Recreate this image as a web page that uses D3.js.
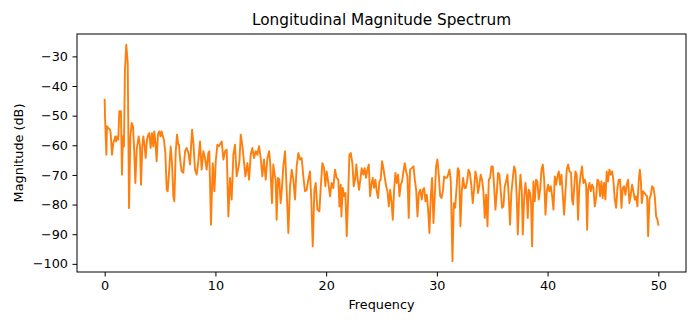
<!DOCTYPE html>
<html><head><meta charset="utf-8">
<script src="https://cdn.jsdelivr.net/npm/d3@7"></script>
<style>
body{margin:0;background:#fff;}
svg{display:block;font-family:"DejaVu Sans",sans-serif;}
</style></head><body>
<svg id="c" width="700" height="327"></svg>
<script>
const titleText = "Longitudinal Magnitude Spectrum";
const xLabel = "Frequency";
const yLabel = "Magnitude (dB)";
const xTicks = [0,10,20,30,40,50];
const yTicks = [-30,-40,-50,-60,-70,-80,-90,-100];

const freq = [0,0.03,0.15,0.21,0.33,0.48,0.54,0.66,0.78,0.87,0.96,1.02,1.14,1.23,1.32,1.47,1.56,1.65,1.74,1.83,1.95,2.08,2.2,2.32,2.44,2.56,2.65,2.77,2.89,3.07,3.19,3.28,3.4,3.49,3.61,3.7,3.82,3.94,4.03,4.15,4.27,4.39,4.48,4.6,4.69,4.81,4.93,5.05,5.14,5.26,5.35,5.48,5.6,5.69,5.81,5.96,6.08,6.2,6.29,6.41,6.53,6.65,
6.71,6.8,6.95,7.1,7.26,7.41,7.56,7.71,7.89,8.01,8.16,8.31,8.46,8.61,8.76,8.91,9.06,9.21,9.36,9.45,9.6,9.76,9.91,10.03,10.18,10.33,10.48,10.57,10.72,10.87,11.02,11.17,11.32,11.47,11.62,11.77,11.92,12.07,12.17,12.29,12.44,12.59,12.71,12.89,13.04,13.19,13.34,13.49,13.64,13.79,13.94,14.09,14.24,14.39,14.54,14.7,14.85,14.94,
15.11,15.23,15.35,15.44,15.53,15.65,15.77,15.89,16.01,16.13,16.29,16.41,16.59,16.74,16.89,17.04,17.19,17.34,17.49,17.64,17.79,17.94,18.09,18.24,18.39,18.54,18.66,18.79,18.94,19.06,19.21,19.39,19.51,19.66,19.81,19.93,20.05,20.2,20.35,20.5,20.65,20.8,20.95,21.1,21.2,21.32,21.38,21.5,21.62,21.74,21.86,21.98,22.1,22.22,22.37,22.49,22.61,22.73,22.85,22.97,23.09,23.21,23.36,23.48,23.6,23.73,23.85,23.97,
24.09,24.21,24.33,24.45,24.57,24.69,24.81,24.93,25.05,25.17,25.3,25.42,25.54,25.66,25.78,25.9,26.02,26.14,26.26,26.38,26.5,26.62,26.74,26.86,26.98,27.1,27.22,27.34,27.46,27.58,27.73,27.89,28.01,28.13,28.25,28.37,28.49,28.64,28.73,28.85,28.97,29.09,29.21,29.33,29.45,29.57,29.69,29.81,29.93,30.05,30.17,30.3,30.42,30.54,30.66,30.78,30.9,31.02,31.14,31.26,31.35,31.41,31.53,31.65,31.77,31.89,32.01,32.13,32.25,32.37,32.49,32.61,32.73,32.86,32.98,
33.12,33.24,33.36,33.48,33.6,33.72,33.84,33.96,34.08,34.2,34.33,34.45,34.57,34.69,34.81,34.93,35.05,35.17,35.29,35.41,35.53,35.65,35.77,35.89,36.01,36.13,36.25,36.37,36.49,36.61,36.73,36.86,36.98,37.1,37.22,37.31,37.43,37.55,37.67,37.76,37.88,38,38.12,38.21,38.3,38.42,38.51,38.6,38.72,38.84,38.96,39.08,39.2,39.33,39.45,39.57,39.69,39.81,39.93,40.05,40.17,40.29,40.41,40.53,40.65,40.77,40.89,41.01,41.13,41.25,41.37,41.49,41.61,41.73,41.86,41.98,
42.12,42.21,42.3,42.39,42.51,42.63,42.75,42.87,42.99,43.11,43.23,43.36,43.48,43.57,43.66,43.78,43.9,44.02,44.14,44.26,44.38,44.5,44.62,44.74,44.86,44.98,45.1,45.22,45.34,45.46,45.58,45.7,45.83,45.95,46.07,46.19,46.31,46.43,46.55,46.67,46.79,46.91,47.03,47.15,47.27,47.39,47.51,47.63,47.75,47.87,47.99,48.11,48.23,48.33,48.42,48.51,48.63,48.75,48.87,48.99,49.08,49.2,49.32,49.44,49.56,49.68,49.8,49.92,50];

const magnitude = [-44.6,-50.2,-63.2,-53.6,-54.2,-54.7,-55.9,-63.2,-59.2,-58.1,-57,-58.7,-57,-58.1,-48.5,-48.5,-69.9,-57,-60.4,-34.5,-26.1,-32.2,-81.2,-57,-52.5,-53.6,-60.4,-72.7,-61.5,-57,-60.4,-73.3,-60.4,-57,-60.4,-64.3,-58.1,-56.4,-55.9,-60.9,-55.9,-60.4,-55.3,-59.8,-65.4,-56.4,-55.3,-57,-55.3,-57,-58.1,-62.6,-75,-75.5,-69.4,-60.4,-66,-77.2,-78.9,-62.6,-56.4,-59.8,
-59.8,-64.3,-68.8,-69.3,-62,-60.9,-62.6,-66.5,-54.7,-59.2,-68.2,-69.9,-65.4,-58.7,-68.2,-62,-64.3,-68.2,-62.6,-62,-86.8,-66,-75.5,-65.4,-59.8,-60.3,-59.2,-58.7,-64.8,-62,-61.5,-84,-71,-78.3,-63.2,-59.8,-70.5,-67.7,-65.4,-56.4,-60.3,-66,-70.5,-66,-71.6,-63.2,-60.9,-64.3,-62,-63.2,-60.3,-64.3,-70.5,-64.8,-71.6,-64.3,-62,-65.4,
-79.5,-66.5,-69.9,-71.6,-85.1,-71,-71.6,-79.5,-74.4,-67.1,-62,-72.7,-89.6,-73.8,-68.2,-71.6,-78.3,-67.1,-62.6,-64.8,-64.3,-70.5,-75.5,-75,-71.6,-68.8,-78.3,-94.1,-75,-72.7,-81.7,-82.3,-74.4,-66,-67.7,-73.8,-68.8,-72.7,-77.2,-72.7,-74.4,-68.2,-71,-71.6,-80.6,-73.3,-84,-74.4,-77.2,-76.1,-90.7,-78.3,-63.2,-62.6,-66,-73.8,-71.6,-66.5,-71.6,-75,-71.6,-67.7,-69.9,-67.7,-71,-68.2,-66.5,-77.2,
-73.3,-71,-74.4,-71.6,-75.5,-77.8,-72.2,-71.6,-65.4,-67.7,-71,-73.8,-75.5,-80.6,-75,-78.9,-85.1,-75,-69.3,-72.7,-69.9,-77.2,-73.3,-72.2,-68.8,-66,-68.8,-70.5,-84.5,-68.2,-67.7,-67.1,-71.6,-75,-84,-76.1,-75,-78.3,-75,-74.4,-78.9,-76.7,-81.7,-89.6,-77.2,-71,-86.2,-77.2,-67.1,-64.8,-69.9,-77.2,-77.8,-75.5,-70.5,-71,-71,-69.9,-68.2,-72.2,-88.5,-99.1,-79.5,-81.1,-75,-67.7,-68.8,-87.3,-75.5,-71,-74.4,-74.4,-72.2,-68.2,-69.3,
-73.8,-79.5,-75,-68.8,-71,-76.1,-73.3,-69.9,-71.6,-75.5,-84.5,-76.7,-87.3,-71.6,-71,-67.1,-67.1,-73.8,-81.7,-76.1,-69.3,-69.9,-75.5,-81.1,-80.6,-73.8,-72.2,-69.9,-77.2,-86.8,-76.1,-71,-67.1,-68.8,-78.3,-90.1,-77.2,-69.9,-75.5,-90.1,-78.3,-72.7,-77.2,-84.5,-75,-76.1,-79.5,-94.1,-72.2,-78.9,-71.6,-72.2,-78.3,-75,-68.2,-66.5,-71.6,-83.4,-75.5,-73.3,-75.5,-73.8,-77.2,-81.7,-70.5,-73.3,-70.5,-68.8,-73.3,-69.9,-76.7,-83.4,-76.1,-68.2,-66.5,-68.8,
-69.3,-78.3,-80,-75,-68.8,-69.9,-85.1,-73.8,-69.9,-67.1,-72.7,-71.6,-73.3,-88.5,-75,-72.7,-75.5,-73.3,-74.4,-80.6,-77.8,-71.6,-72.2,-77.2,-72.2,-77.8,-72.7,-78.3,-68.8,-72.2,-68.2,-69.9,-68.8,-72.2,-78.3,-81.1,-74.4,-71.6,-71.6,-81.1,-74.4,-73.8,-76.7,-73.3,-71.6,-79.5,-76.7,-73.3,-75.5,-78.3,-77.2,-80.6,-72.2,-68.2,-71.6,-79.5,-75.5,-76.1,-76.7,-77.2,-90.7,-78.3,-76.7,-73.8,-74.4,-77.2,-84,-85.1,-86.8];

const data = freq.map((f,i)=>({f, m: magnitude[i]}));

const W = 700, H = 327;
const margin = {left:77, right:14, top:34, bottom:55};
const iw = W - margin.left - margin.right, ih = H - margin.top - margin.bottom;

const fx = d3.extent(freq), my = d3.extent(magnitude);
const px = (fx[1]-fx[0])*0.05, py = (my[1]-my[0])*0.05;
const x = d3.scaleLinear().domain([fx[0]-px, fx[1]+px]).range([0, iw]);
const y = d3.scaleLinear().domain([my[0]-py, my[1]+py]).range([ih, 0]);

const svg = d3.select("#c");
const g = svg.append("g").attr("transform",`translate(${margin.left},${margin.top})`);

g.append("path").datum(data)
  .attr("fill","none").attr("stroke","#ff7f0e").attr("stroke-width",1.9)
  .attr("stroke-linejoin","round").attr("stroke-linecap","square")
  .attr("d", d3.line().x(d=>x(d.f)).y(d=>y(d.m)));

const xa = g.append("g").attr("transform",`translate(0,${ih})`)
  .call(d3.axisBottom(x).tickValues(xTicks).tickSize(4.5).tickPadding(4.5).tickFormat(d3.format("d")));
const ya = g.append("g")
  .call(d3.axisLeft(y).tickValues(yTicks).tickSize(4.5).tickPadding(4.5).tickFormat(d=> d<0 ? "\u2212"+Math.abs(d) : d));
[xa,ya].forEach(a=>{
  a.select(".domain").remove();
  a.selectAll("line").attr("stroke","#000").attr("stroke-width",1);
  a.selectAll("text").attr("font-family","DejaVu Sans").attr("font-size","12.8px").attr("fill","#000");
});

g.append("rect").attr("width",iw).attr("height",ih)
  .attr("fill","none").attr("stroke","#000").attr("stroke-width",1);

svg.append("text").attr("x", margin.left+iw/2).attr("y", 25)
  .attr("text-anchor","middle").attr("font-size","15.3px").attr("fill","#000").text(titleText);
svg.append("text").attr("x", margin.left+iw/2).attr("y", 309)
  .attr("text-anchor","middle").attr("font-size","12.8px").attr("fill","#000").text(xLabel);
svg.append("text").attr("transform",`translate(23,${margin.top+ih/2}) rotate(-90)`)
  .attr("text-anchor","middle").attr("font-size","12.8px").attr("fill","#000").text(yLabel);
</script></body></html>
